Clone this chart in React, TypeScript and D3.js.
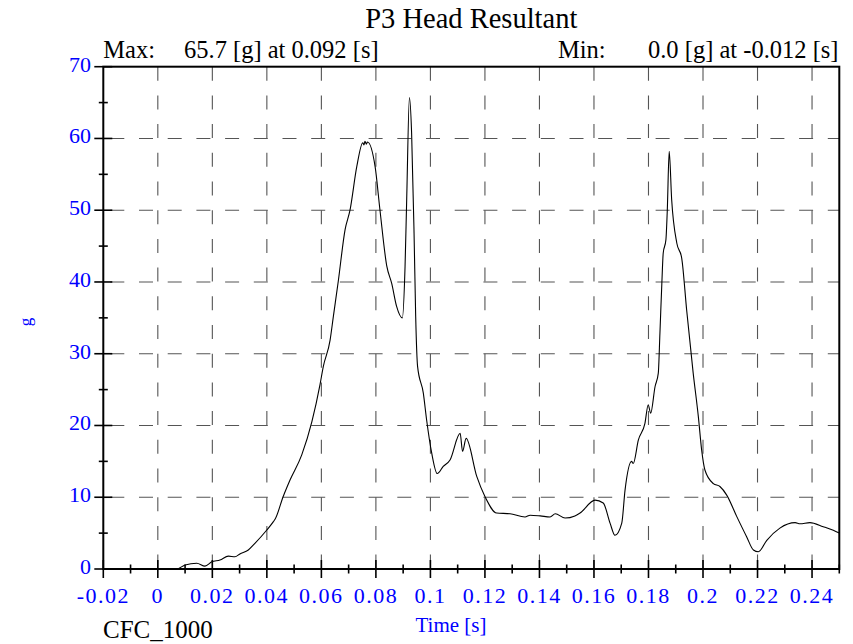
import React from "react";
import * as d3 from "d3";

const chartTitle = "P3 Head Resultant";
const maxLabel = "Max:";
const maxValue = "65.7 [g] at 0.092 [s]";
const minLabel = "Min:";
const minValue = "0.0 [g] at -0.012 [s]";
const xLabel = "Time [s]";
const yLabel = "g";
const filterLabel = "CFC_1000";

const xTicks = [-0.02, 0, 0.02, 0.04, 0.06, 0.08, 0.1, 0.12, 0.14, 0.16, 0.18, 0.2, 0.22, 0.24];
const xTickLabels = ["-0.02", "0", "0.02", "0.04", "0.06", "0.08", "0.1", "0.12", "0.14", "0.16", "0.18", "0.2", "0.22", "0.24"];
const xMinorTicks = [-0.01, 0.01, 0.03, 0.05, 0.07, 0.09, 0.11, 0.13, 0.15, 0.17, 0.19, 0.21, 0.23, 0.25];
const yTicks = [0, 10, 20, 30, 40, 50, 60, 70];
const yMinorTicks = [5, 15, 25, 35, 45, 55, 65];

const time = [
  -0.02, 0.0, 0.0069, 0.01, 0.0143, 0.0173, 0.0198, 0.0228, 0.0259, 0.0283, 0.0301, 0.0332, 0.0357, 0.0399,
  0.0424, 0.0431, 0.046, 0.0485, 0.0528, 0.0565, 0.0595, 0.0607, 0.0632, 0.0644, 0.0662, 0.0687, 0.0705,
  0.073, 0.0752, 0.0756, 0.076, 0.0765, 0.0769, 0.0797, 0.0815, 0.084, 0.0858, 0.0876, 0.0897, 0.0907,
  0.0913, 0.0923, 0.0931, 0.094, 0.0946, 0.0953, 0.0974, 0.0986, 0.1005, 0.1025, 0.1047, 0.1072, 0.1109,
  0.1118, 0.1131, 0.117, 0.12, 0.1243, 0.1292, 0.1347, 0.1366, 0.1403, 0.1439, 0.1458, 0.1494, 0.153,
  0.1549, 0.1604, 0.1634, 0.1659, 0.1677, 0.1702, 0.1714, 0.1738, 0.1744, 0.1763, 0.1787, 0.1799, 0.1808,
  0.1824, 0.1836, 0.1842, 0.1849, 0.1854, 0.1864, 0.1869, 0.1876, 0.1885, 0.1904, 0.1922, 0.194, 0.1964,
  0.1983, 0.1995, 0.2007, 0.2038, 0.2062, 0.2087, 0.2124, 0.216, 0.2185, 0.2203, 0.2234, 0.2282, 0.2338,
  0.2356, 0.2392, 0.2441, 0.2478, 0.25,
];
const accel = [
  0.0, 0.0, 0.0, 0.56, 0.8, 0.4, 1.0, 1.25, 1.8, 1.7, 2.1, 2.65, 3.6, 5.4,
  6.6, 7.0, 10.1, 12.4, 15.9, 20.5, 25.7, 28.2, 31.9, 35.2, 40.1, 47.3, 50.0,
  56.1, 59.4, 59.1, 59.6, 59.2, 59.5, 56.1, 50.0, 42.2, 39.8, 36.6, 35.0, 42.2,
  51.5, 65.7, 60.8, 46.8, 35.2, 28.2, 24.5, 20.8, 16.1, 13.3, 14.3, 15.2, 18.9,
  16.4, 18.2, 12.9, 10.1, 7.8, 7.7, 7.25, 7.5, 7.4, 7.25, 7.7, 7.1, 7.4,
  7.8, 9.6, 9.2, 6.4, 4.7, 6.4, 11.0, 15.0, 14.7, 18.0, 20.3, 22.9, 21.7,
  25.4, 27.3, 32.9, 39.8, 44.0, 45.9, 50.0, 58.2, 51.5, 45.4, 43.3, 36.1, 27.3,
  21.2, 16.6, 13.8, 11.9, 11.5, 10.3, 7.3, 4.5, 2.65, 2.4, 4.0, 5.7, 6.46,
  6.3, 6.46, 5.9, 5.4, 5.0,
];

const W = 853;
const H = 644;
const left = 103.3;
const right = 839.3;
const top = 66.7;
const bottom = 569;
const serif = "'Liberation Serif', 'Times New Roman', Times, serif";
const blue = "#0000ff";
const gridColor = "#555";

export default function App() {
  const x = d3.scaleLinear().domain([-0.02, 0.25]).range([left, right]);
  const y = d3.scaleLinear().domain([0, 70]).range([bottom, top]);
  const pts = time.map((t, i) => [t, accel[i]] as [number, number]);
  const line = d3
    .line<[number, number]>()
    .x((d) => x(d[0]))
    .y((d) => y(d[1]))
    .curve(d3.curveMonotoneX);

  const vGrid = xTicks.filter((t) => t > -0.015);
  const hGrid = yTicks.filter((v) => v > 0 && v < 70);

  return (
    <svg
      width={W}
      height={H}
      style={{ position: "absolute", left: 0, top: 0, background: "#fff" }}
      fontFamily={serif}
    >
      <rect x={0} y={0} width={W} height={H} fill="#fff" />
      {vGrid.map((t) => (
        <line
          key={"vg" + t}
          x1={x(t)}
          x2={x(t)}
          y1={top}
          y2={bottom}
          stroke={gridColor}
          strokeWidth={1.1}
          strokeDasharray="14 14.7"
        />
      ))}
      {hGrid.map((v) => (
        <line
          key={"hg" + v}
          x1={left}
          x2={right}
          y1={y(v)}
          y2={y(v)}
          stroke={gridColor}
          strokeWidth={1.1}
          strokeDasharray="14 14.7"
          strokeDashoffset={21.7}
        />
      ))}
      <path d={line(pts) || ""} fill="none" stroke="#000" strokeWidth={1.1} strokeLinejoin="round" />
      <rect x={left} y={top} width={right - left} height={bottom - top} fill="none" stroke="#000" strokeWidth={2} />
      {xTicks.map((t) => (
        <line key={"xt" + t} x1={x(t)} x2={x(t)} y1={bottom - 9} y2={bottom + 9} stroke="#000" strokeWidth={1.6} />
      ))}
      {xMinorTicks.map((t) => (
        <line key={"xm" + t} x1={x(t)} x2={x(t)} y1={bottom - 4.5} y2={bottom + 4.5} stroke="#000" strokeWidth={1.6} />
      ))}
      {yTicks.map((v) => (
        <line key={"yt" + v} x1={left - 9} x2={left + 9} y1={y(v)} y2={y(v)} stroke="#000" strokeWidth={1.6} />
      ))}
      {yMinorTicks.map((v) => (
        <line key={"ym" + v} x1={left - 4.5} x2={left + 4.5} y1={y(v)} y2={y(v)} stroke="#000" strokeWidth={1.6} />
      ))}
      {xTicks.map((t, i) => (
        <text
          key={"xl" + t}
          x={x(t)}
          y={603}
          textAnchor="middle"
          fill={blue}
          fontSize={22}
          letterSpacing={1.5}
        >
          {xTickLabels[i]}
        </text>
      ))}
      {yTicks.map((v) => (
        <text key={"yl" + v} x={91} y={y(v) + 5} textAnchor="end" fill={blue} fontSize={22}>
          {v}
        </text>
      ))}
      <text x={(left + right) / 2} y={28} textAnchor="middle" fill="#000" fontSize={28.5}>
        {chartTitle}
      </text>
      <text x={103.3} y={58} fill="#000" fontSize={24.5}>
        {maxLabel}
      </text>
      <text x={184} y={58} fill="#000" fontSize={24.5}>
        {maxValue}
      </text>
      <text x={558} y={58} fill="#000" fontSize={24.5}>
        {minLabel}
      </text>
      <text x={838.5} y={58} textAnchor="end" fill="#000" fontSize={24.5}>
        {minValue}
      </text>
      <text x={451} y={632} textAnchor="middle" fill={blue} fontSize={21}>
        {xLabel}
      </text>
      <text x={103} y={638} fill="#000" fontSize={25}>
        {filterLabel}
      </text>
      <text
        transform={`translate(31, 322) rotate(-90)`}
        textAnchor="middle"
        fill={blue}
        fontSize={17}
      >
        {yLabel}
      </text>
    </svg>
  );
}
